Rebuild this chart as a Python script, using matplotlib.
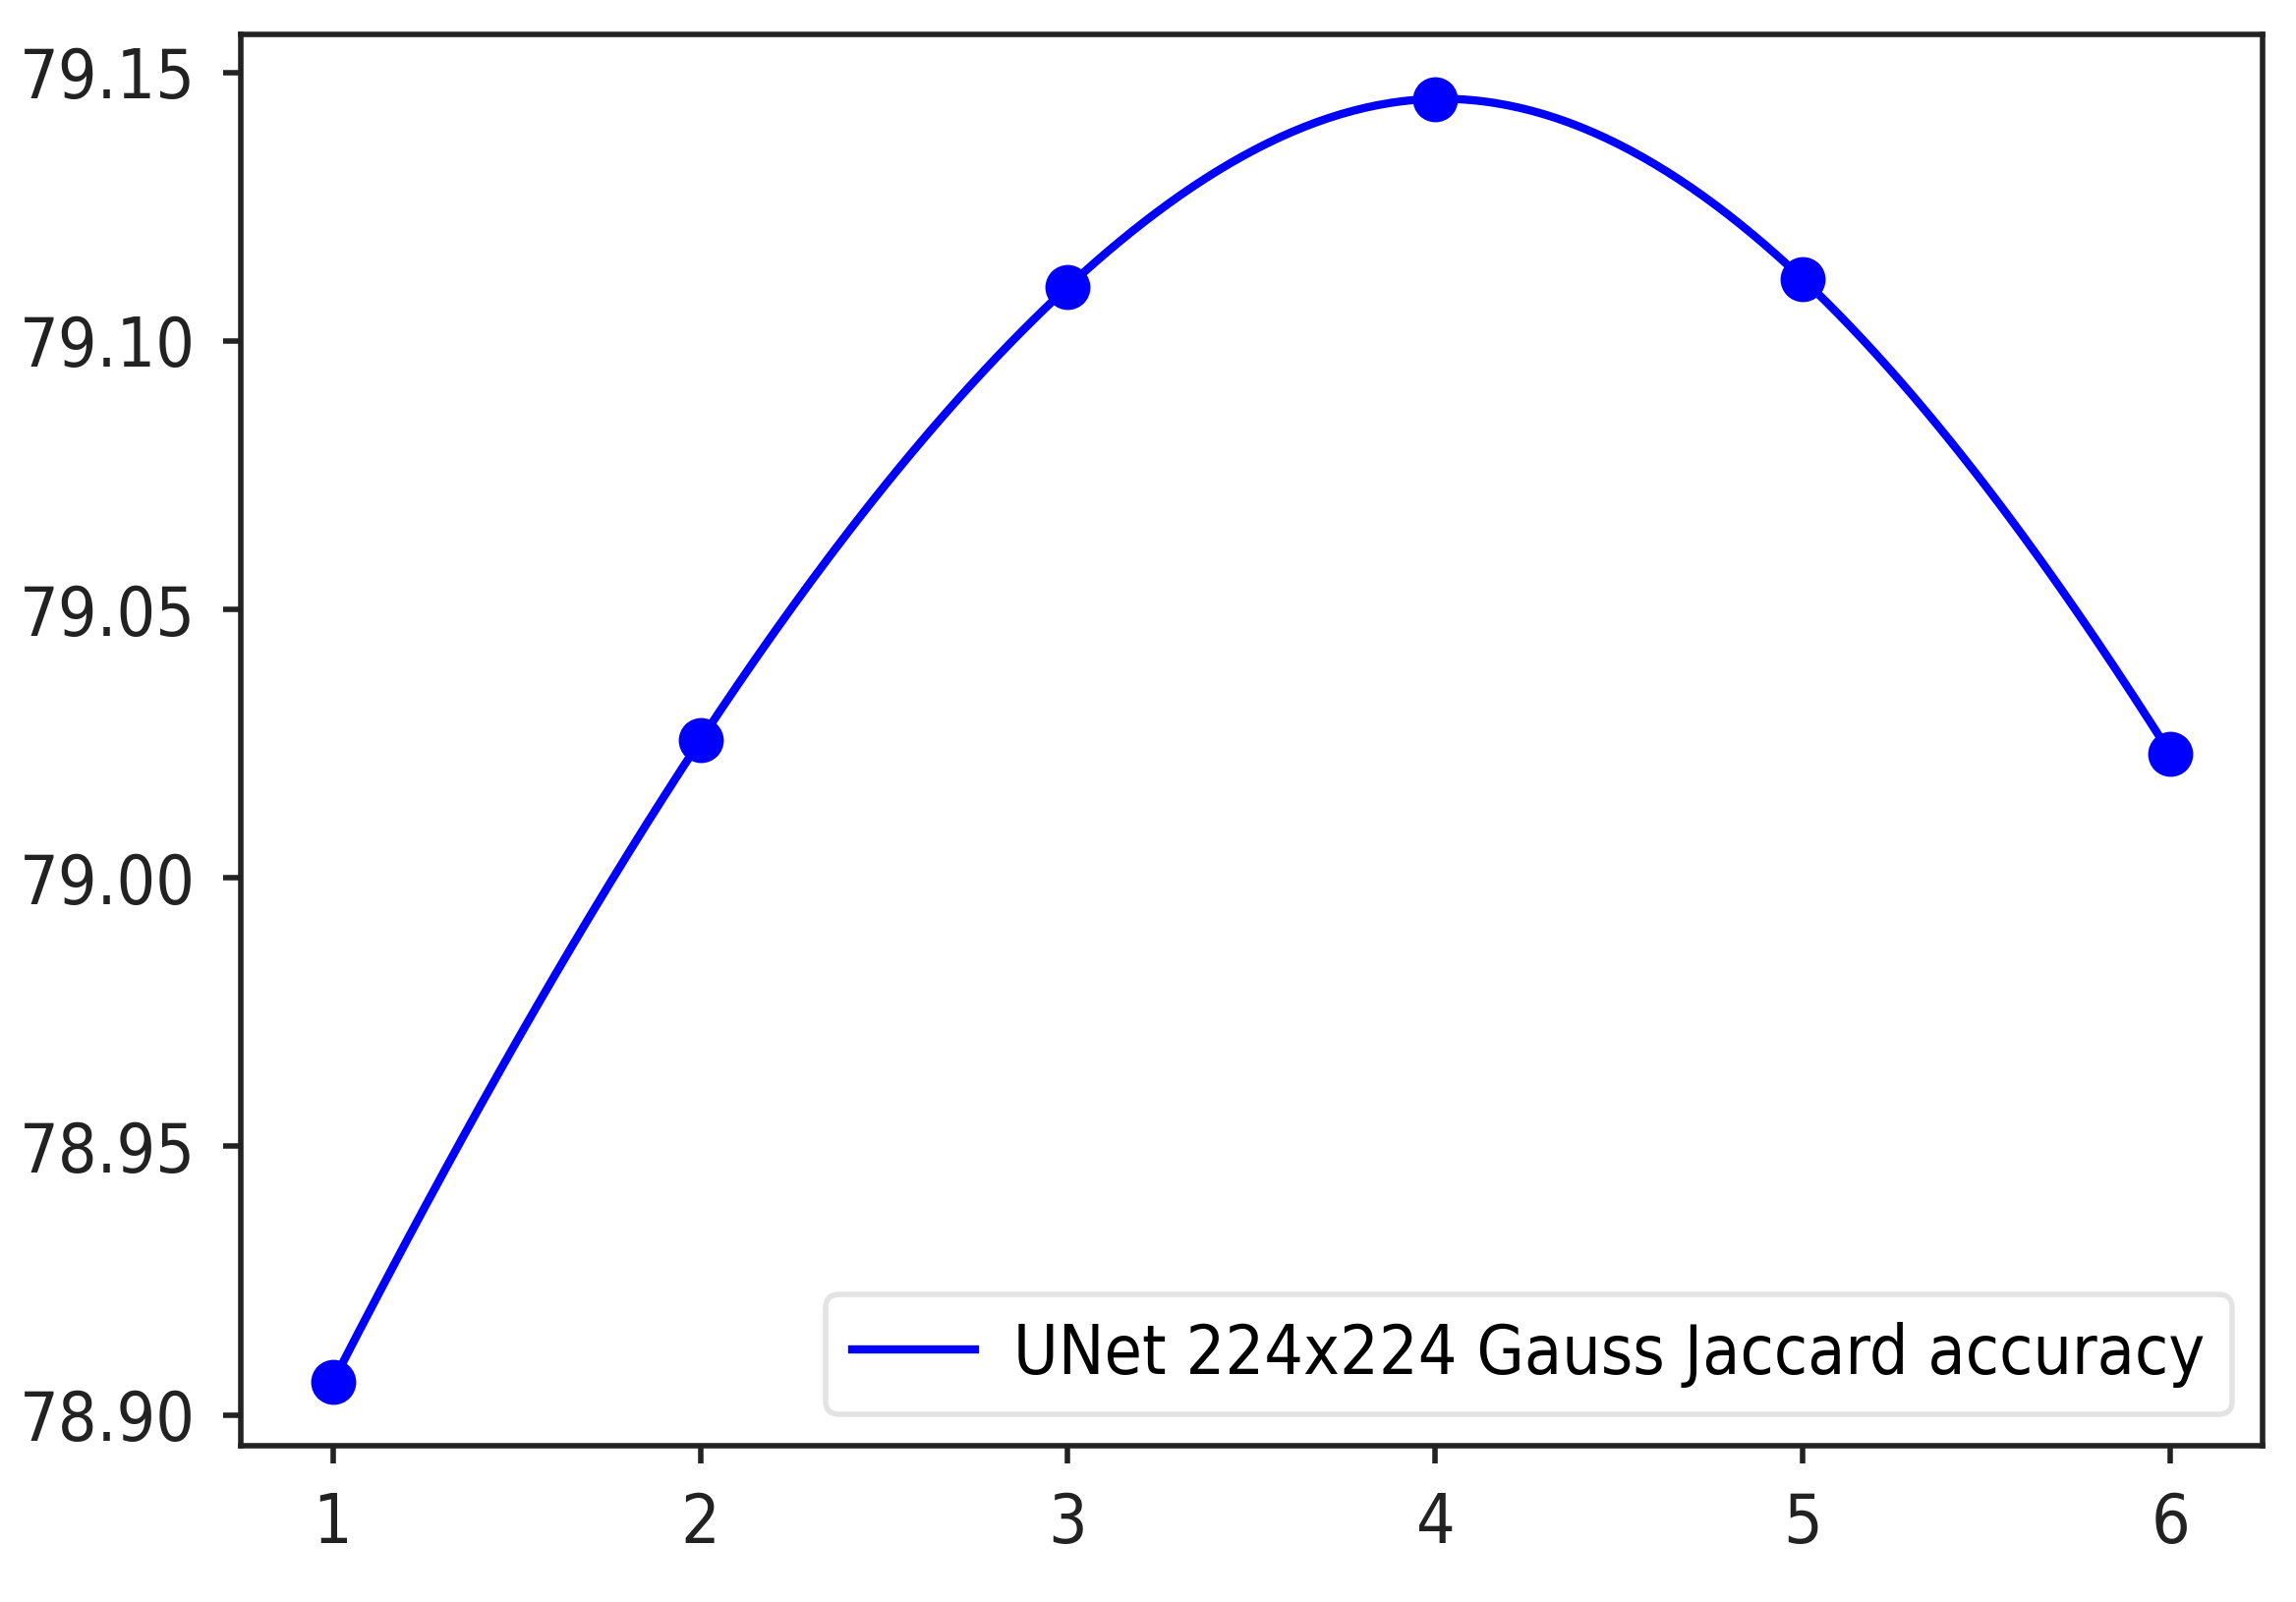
import numpy as np
import matplotlib
matplotlib.use("Agg")
import matplotlib.pyplot as plt

# Data
epochs = [1, 2, 3, 4, 5, 6]
accuracy = [78.9061, 79.0256, 79.1101, 79.1451, 79.1115, 79.0231]
label = "UNet 224x224 Gauss Jaccard accuracy"
yticks = [78.90, 78.95, 79.00, 79.05, 79.10, 79.15]


def not_a_knot_spline(x, y, xs):
    x = np.asarray(x, float)
    y = np.asarray(y, float)
    n = len(x)
    h = np.diff(x)
    A = np.zeros((n, n))
    b = np.zeros(n)
    A[0, 0] = -1.0 / h[0]
    A[0, 1] = 1.0 / h[0] + 1.0 / h[1]
    A[0, 2] = -1.0 / h[1]
    A[-1, -3] = -1.0 / h[-2]
    A[-1, -2] = 1.0 / h[-2] + 1.0 / h[-1]
    A[-1, -1] = -1.0 / h[-1]
    for i in range(1, n - 1):
        A[i, i - 1] = h[i - 1]
        A[i, i] = 2 * (h[i - 1] + h[i])
        A[i, i + 1] = h[i]
        b[i] = 6 * ((y[i + 1] - y[i]) / h[i] - (y[i] - y[i - 1]) / h[i - 1])
    M = np.linalg.solve(A, b)
    idx = np.clip(np.searchsorted(x, xs) - 1, 0, n - 2)
    x0, x1 = x[idx], x[idx + 1]
    hh = x1 - x0
    return (M[idx] * (x1 - xs) ** 3 / (6 * hh) + M[idx + 1] * (xs - x0) ** 3 / (6 * hh)
            + (y[idx] / hh - M[idx] * hh / 6) * (x1 - xs)
            + (y[idx + 1] / hh - M[idx + 1] * hh / 6) * (xs - x0))


plt.rcParams['font.family'] = 'DejaVu Sans'
plt.rcParams['font.stretch'] = 'condensed'

fig = plt.figure(figsize=(23.36, 16.3), dpi=100)
ax = fig.add_axes([0.1049, 0.0977, 0.9854 - 0.1049, 0.9785 - 0.0977])

xs = np.linspace(min(epochs), max(epochs), 300)
ax.plot(xs, not_a_knot_spline(epochs, accuracy, xs), color='blue', lw=6, label=label)
ax.plot(epochs, accuracy, 'o', color='blue', markersize=32)

ax.set_xlim(0.75, 6.25)
ax.set_ylim(78.8943, 79.1571)
ax.set_xticks(epochs)
ax.set_yticks(yticks)
ax.set_yticklabels([f"{v:.2f}" for v in yticks])

for s in ax.spines.values():
    s.set_linewidth(4)
    s.set_color('#222222')
ax.tick_params(labelsize=50, length=13, width=4, pad=20, colors='#222222', labelcolor='#222222')

leg = ax.legend(loc='lower right', fontsize=50, handlelength=1.8, handletextpad=0.55,
                borderaxespad=0.45, framealpha=0.8, fancybox=True)
leg.get_frame().set_linewidth(4)
leg.get_frame().set_edgecolor('#dddddd')

fig.savefig("out.png", dpi=100)
